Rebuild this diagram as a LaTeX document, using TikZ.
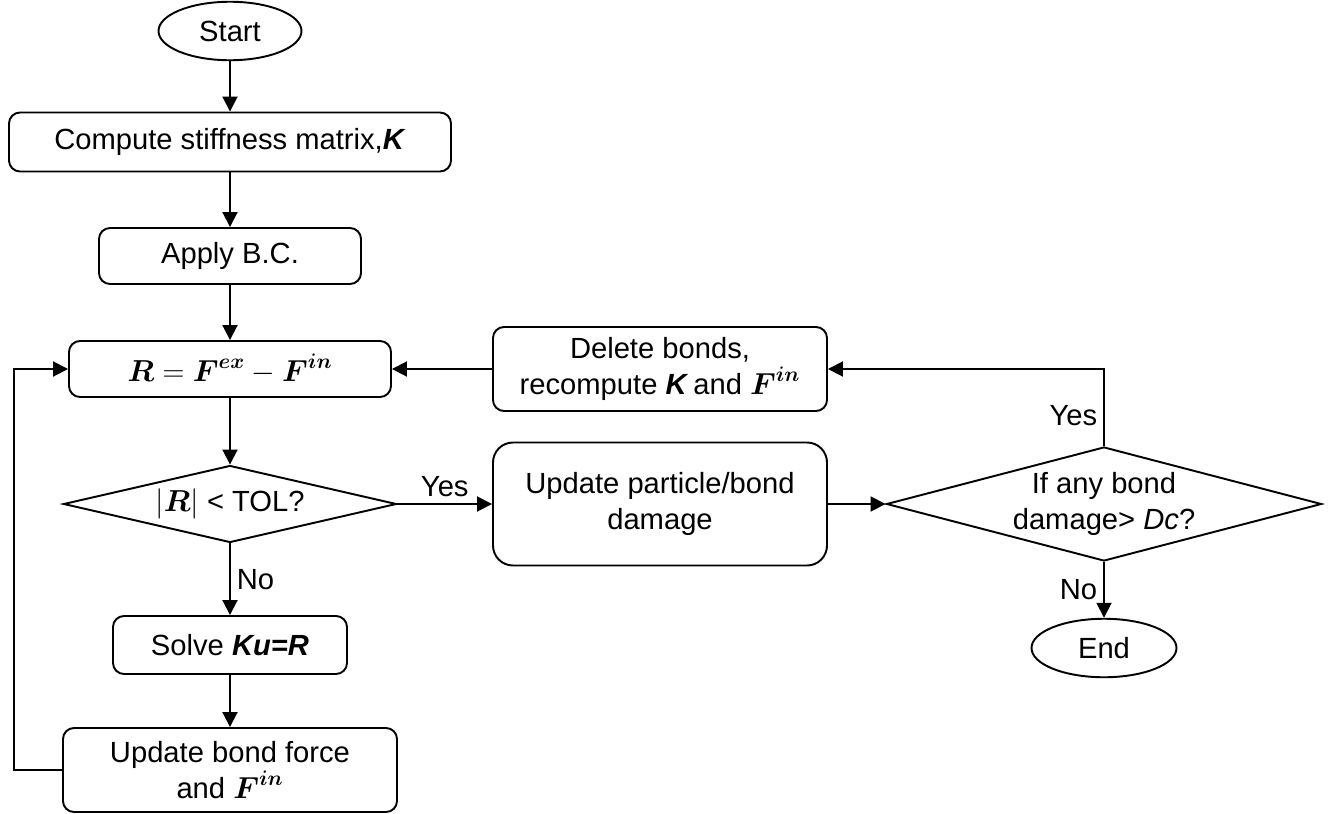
\documentclass[tikz,border=0pt]{standalone}
\usepackage{amsmath}
\usepackage[no-math]{fontspec}
\setmainfont{Liberation Sans}
\usepackage{tikz}
\usetikzlibrary{shapes.geometric, arrows.meta, positioning, calc}

\newcommand{\bv}[1]{\boldsymbol{#1}}

\begin{document}
\begin{tikzpicture}[font=\fontsize{16.6}{20}\selectfont,
    >={Triangle[length=3mm, width=3mm]},
    term/.style={draw, ellipse, line width=1.1pt, minimum width=2.86cm, minimum height=1.17cm, inner sep=0pt},
    process/.style={draw, rectangle, rounded corners=0.22cm, line width=1.1pt, align=center, inner sep=0pt},
    decision/.style={draw, diamond, line width=1.1pt, align=center, inner sep=0pt},
    flow/.style={->, line width=1.1pt}]

\useasboundingbox (0,0) rectangle (26.64,-16.28);

\node[term] (start) at (4.6,-0.62) {Start};
\node[process, minimum width=8.84cm, minimum height=1.18cm] (stiff) at (4.6,-2.84) {Compute stiffness matrix,\textbf{\textit{K}}};
\node[process, minimum width=5.24cm, minimum height=1.12cm] (bc) at (4.6,-5.12) {Apply B.C.};
\node[process, minimum width=6.44cm, minimum height=1.12cm] (resid) at (4.6,-7.38) {$\bv{R}=\bv{F}^{\bv{ex}}-\bv{F}^{\bv{in}}$};
\node[decision, aspect=4.32, minimum width=6.66cm, minimum height=1.54cm] (conv) at (4.6,-10.08) {$|\bv{R}|$ < TOL?};
\node[process, minimum width=4.68cm, minimum height=1.16cm] (solve) at (4.6,-12.9) {Solve \textbf{\textit{Ku=R}}};
\node[process, minimum width=6.68cm, minimum height=1.68cm] (upd) at (4.6,-15.4) {Update bond force\\and $\bv{F}^{\bv{in}}$};

\node[process, minimum width=6.68cm, minimum height=1.68cm] (del) at (13.2,-7.38) {Delete bonds,\\recompute \textbf{\textit{K}}\,and $\bv{F}^{\bv{in}}$};
\node[process, rounded corners=0.4cm, minimum width=6.68cm, minimum height=2.46cm] (dmg) at (13.2,-10.08) {Update particle/bond\\damage};

\node[decision, aspect=3.8, minimum width=8.7cm, minimum height=2.28cm] (crit) at (22.08,-10.08) {If any bond\\damage> \textit{Dc}?};
\node[term, minimum width=2.9cm] (end) at (22.08,-12.96) {End};

\draw[flow] (start) -- (stiff);
\draw[flow] (stiff) -- (bc);
\draw[flow] (bc) -- (resid);
\draw[flow] (resid) -- (conv);
\draw[flow] (conv) -- node[right] {No} (solve);
\draw[flow] (solve) -- (upd);
\draw[flow] (upd.west) -- ++(-0.96,0) |- (resid.west);
\draw[flow] (conv) -- node[above] {Yes} (dmg);
\draw[flow] (dmg) -- (crit);
\draw[flow] (crit.north) |- node[left, pos=0.2] {Yes} (del.east);
\draw[flow] (del) -- (resid);
\draw[flow] (crit) -- node[left] {No} (end);
\end{tikzpicture}
\end{document}
